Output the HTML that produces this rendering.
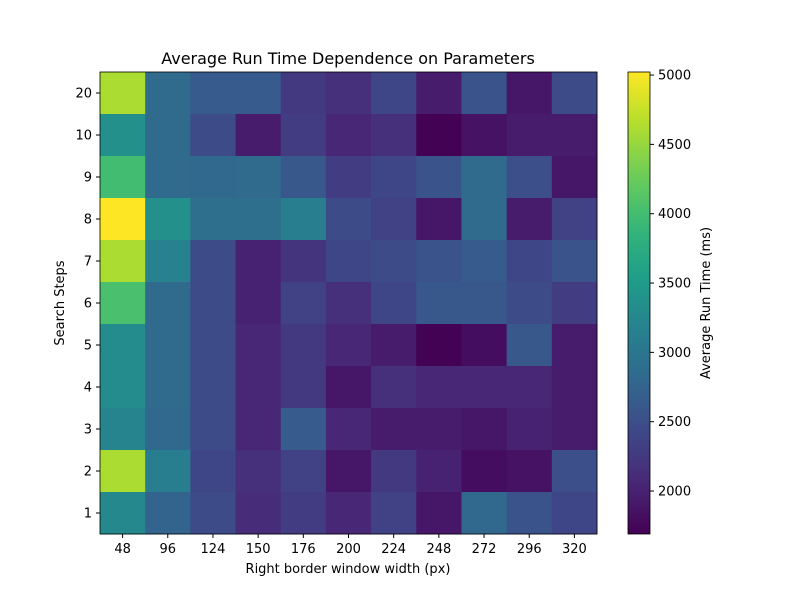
<!DOCTYPE html>
<html><head><meta charset="utf-8"><style>
body{margin:0;background:#fff;font-family:"Liberation Sans","DejaVu Sans",sans-serif;}
svg text{font-family:"DejaVu Sans","Liberation Sans",sans-serif;}
</style></head><body>
<svg id="c" width="800" height="600" xmlns="http://www.w3.org/2000/svg"></svg>
<script>
const xCategories=["48","96","124","150","176","200","224","248","272","296","320"];
const yCategories=["20","10","9","8","7","6","5","4","3","2","1"];
const row20=[4600,2850,2650,2650,2250,2150,2400,1950,2550,1900,2450];
const row10=[3350,2850,2450,1950,2300,2050,2150,1700,1850,1950,1950];
const row9=[4000,2850,2800,2850,2600,2300,2400,2550,2850,2500,1900];
const row8=[5020,3350,2900,2900,3100,2450,2350,1900,2850,1950,2350];
const row7=[4600,3150,2450,2000,2200,2400,2450,2550,2650,2400,2550];
const row6=[4050,2850,2450,2000,2350,2150,2400,2600,2600,2450,2300];
const row5=[3300,2850,2450,2050,2250,2050,1950,1700,1800,2600,1950];
const row4=[3300,2850,2450,2050,2250,1900,2150,2050,2050,2050,1950];
const row3=[3200,2800,2450,2050,2650,2050,1950,1950,1900,2000,1950];
const row2=[4600,3100,2400,2150,2350,1900,2250,2000,1800,1850,2500];
const row1=[3250,2750,2450,2100,2300,2050,2350,1900,2800,2550,2400];
const values=[row20,row10,row9,row8,row7,row6,row5,row4,row3,row2,row1];
const cbTicks=[2000,2500,3000,3500,4000,4500,5000];
const vmin=1690,vmax=5022;

const NS="http://www.w3.org/2000/svg";
const svg=document.getElementById('c');
function el(t,a,txt){const e=document.createElementNS(NS,t);for(const k in a)e.setAttribute(k,a[k]);if(txt!=null)e.textContent=txt;svg.appendChild(e);return e;}
const vir=[[68,1,84],[72,40,120],[62,73,137],[49,104,142],[38,130,142],[31,158,137],[53,183,121],[109,205,89],[180,222,44],[253,231,37]];
function cmap(v){let t=Math.max(0,Math.min(1,(v-vmin)/(vmax-vmin)))*(vir.length-1);let i=Math.min(Math.floor(t),vir.length-2),f=t-i;
 const c=vir[i].map((a,k)=>Math.round(a+(vir[i+1][k]-a)*f));return `rgb(${c[0]},${c[1]},${c[2]})`;}
const X0=100,X1=597,Y0=72,Y1=534;
const cw=(X1-X0)/xCategories.length,ch=(Y1-Y0)/yCategories.length;
function xPos(i){return X0+i*cw;}
function yPos(j){return Y0+j*ch;}
el('text',{x:348,y:64,'text-anchor':'middle','font-size':16,},'Average Run Time Dependence on Parameters');
values.forEach((row,j)=>row.forEach((v,i)=>{
 const r=el('rect',{x:xPos(i),y:yPos(j),width:cw+0.5,height:ch+0.5,fill:cmap(v)});
 
 
}));
el('rect',{x:X0,y:Y0,width:X1-X0,height:Y1-Y0,fill:'none',stroke:'#000','stroke-width':0.8});
xCategories.forEach((c,i)=>{const x=xPos(i)+cw/2;
 el('line',{x1:x,x2:x,y1:Y1,y2:Y1+4,stroke:'#000'});
 const t=el('text',{x:x,y:Y1+19,'text-anchor':'middle','font-size':13},c);
 });
yCategories.forEach((c,j)=>{const y=yPos(j)+ch/2;
 el('line',{x1:X0-4,x2:X0,y1:y,y2:y,stroke:'#000'});
 const t=el('text',{x:X0-8,y:y+4.5,'text-anchor':'end','font-size':13},c);
 });
el('text',{x:348,y:573,'text-anchor':'middle','font-size':13,},'Right border window width (px)');
el('text',{x:64,y:303,'text-anchor':'middle','font-size':13,transform:'rotate(-90 64 303)',},'Search Steps');
const CX=628,CW=22;
const defs=el('defs',{});
const g=document.createElementNS(NS,'linearGradient');g.setAttribute('id','vg');g.setAttribute('x1','0');g.setAttribute('y1','1');g.setAttribute('x2','0');g.setAttribute('y2','0');defs.appendChild(g);
for(let k=0;k<=20;k++){const s=document.createElementNS(NS,'stop');s.setAttribute('offset',k/20);s.setAttribute('stop-color',cmap(vmin+(vmax-vmin)*k/20));g.appendChild(s);}
el('rect',{x:CX,y:Y0,width:CW,height:Y1-Y0,fill:'url(#vg)',stroke:'#000','stroke-width':0.8,});
function cy(v){return Y1-(v-vmin)/(vmax-vmin)*(Y1-Y0);}
cbTicks.forEach(v=>{const y=cy(v);
 el('line',{x1:CX+CW,x2:CX+CW+4,y1:y,y2:y,stroke:'#000'});
 const t=el('text',{x:CX+CW+8,y:y+4.5,'font-size':13},String(v));
 });
el('text',{x:710,y:303,'text-anchor':'middle','font-size':13,transform:'rotate(-90 710 303)',},'Average Run Time (ms)');
</script>
</body></html>
